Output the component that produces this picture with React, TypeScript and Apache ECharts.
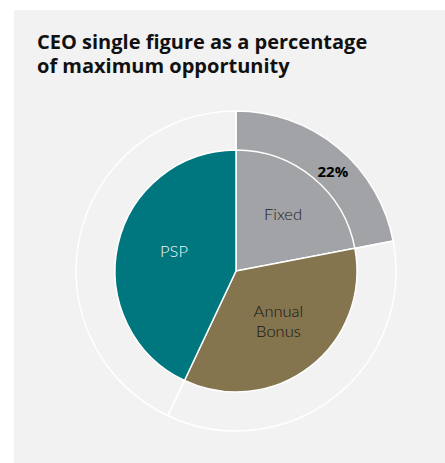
import React, { useEffect, useRef } from "react";
import * as echarts from "echarts";

const categories = ["Fixed", "Annual\nBonus", "PSP"];
const values = [22, 35, 43];
const outerLabel = "22%";
const titleLines = ["CEO single figure as a percentage", "of maximum opportunity"];
const colors = ["#a2a3a6", "#84754e", "#00777f"];
const labelColors = ["#222222", "#141414", "#eef6f6"];
// label text tweaks: extra blank line before/after and line height, horizontal padding
const labelFormats = ["{b}\n", "{b}", "{b}\n"];
const labelLineHeights = [16, 20, 13];
const labelPadding = [
  [0, 0, 0, 13],
  [0, 0, 0, 7],
  [0, 0, 0, 0],
];

export default function App() {
  const ref = useRef<HTMLDivElement>(null);
  useEffect(() => {
    const chart = echarts.init(ref.current!, undefined, { renderer: "svg" });
    const cx = 236;
    const cy = 271;
    chart.setOption({
      animation: false,
      backgroundColor: "#ffffff",
      graphic: [
        {
          type: "rect",
          z: -10,
          shape: { x: 14, y: 10, width: 431, height: 453 },
          style: { fill: "#f2f2f2" },
          silent: true,
        },
        ...titleLines.map((t, i) => ({
          type: "text",
          left: 37,
          top: 31 + i * 24.5,
          style: {
            text: t,
            fontFamily: "Open Sans",
            fontWeight: "bold",
            fontSize: 20,
            fill: "#111111",
          },
        })),
      ],
      series: [
        {
          type: "pie",
          silent: true,
          center: [cx, cy],
          radius: [119, 160],
          startAngle: 90,
          clockwise: true,
          emphasis: { disabled: true },
          labelLine: { show: false },
          data: values.map((v, i) => ({
            value: v,
            name: categories[i],
            itemStyle: {
              color: i === 0 ? colors[0] : "rgba(0,0,0,0)",
              borderColor: "#ffffff",
              borderWidth: 1.5,
            },
            label:
              i === 0
                ? {
                    show: true,
                    position: "inside",
                    formatter: "\n" + outerLabel,
                    fontFamily: "Open Sans",
                    fontWeight: "bold",
                    fontSize: 15,
                    lineHeight: 20,
                    color: "#000000",
                    padding: [0, 0, 0, 12],
                  }
                : { show: false },
          })),
        },
        {
          type: "pie",
          silent: true,
          center: [cx, cy],
          radius: [0, 121],
          startAngle: 90,
          clockwise: true,
          emphasis: { disabled: true },
          labelLine: { show: false },
          itemStyle: { borderColor: "#ffffff", borderWidth: 1.5 },
          data: values.map((v, i) => ({
            value: v,
            name: categories[i],
            itemStyle: { color: colors[i] },
            label: {
              show: true,
              position: "inside",
              formatter: labelFormats[i],
              fontFamily: "Lato",
              fontWeight: 300,
              fontSize: 16.5,
              lineHeight: labelLineHeights[i],
              color: labelColors[i],
              padding: labelPadding[i],
            },
          })),
        },
      ],
    });
    return () => chart.dispose();
  }, []);
  return (
    <div
      ref={ref}
      style={{ position: "absolute", left: 0, top: 0, width: 445, height: 463 }}
    />
  );
}
